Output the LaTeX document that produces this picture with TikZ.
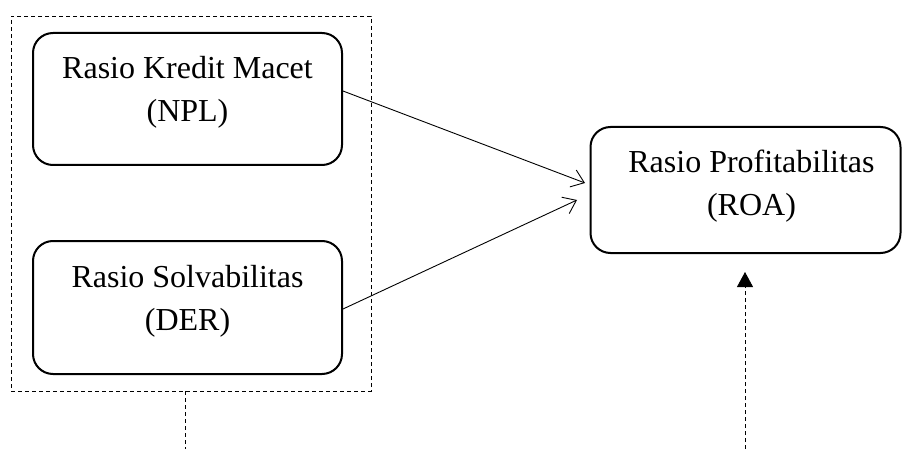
\documentclass[tikz,border=0pt]{standalone}
\usepackage{fontspec}
\setmainfont{Liberation Serif}
\usetikzlibrary{arrows.meta}
\begin{document}
\begin{tikzpicture}[x=1pt,y=-1pt,
  box/.style={draw,line width=2pt,rounded corners=20pt,align=center,
    font=\fontsize{32}{43}\selectfont,inner sep=0pt},
  dsh/.style={draw,line width=0.9pt,dash pattern=on 4pt off 3pt},
  opena/.style={-{Straight Barb[length=12pt,width=18pt,line width=0.9pt]},line width=0.9pt},
  filla/.style={-{Triangle[length=15pt,width=16pt]}}
]
\useasboundingbox (0,0) rectangle (902,449);
\node[box,minimum width=309pt,minimum height=132pt,text depth=20pt] (npl) at (187.5,99) {Rasio Kredit Macet\\(NPL)};
\node[box,minimum width=309pt,minimum height=133pt,text depth=20pt] (der) at (187.5,307.5) {Rasio Solvabilitas\\(DER)};
\node[box,minimum width=310pt,minimum height=126pt,text depth=15pt] (roa) at (745.5,190) {\hspace*{12pt}Rasio Profitabilitas\\\hspace*{12pt}(ROA)};
\node[dsh,minimum width=360pt,minimum height=375pt,inner sep=0pt] (grp) at (191,203.5) {};
\coordinate (t1) at (585,183);
\coordinate (t2) at (577,200);
\coordinate (g1) at (185,449);
\coordinate (b1) at (745,449);
\coordinate (b2) at (745,272);
\draw[opena] (npl.east |- 0,91) -- (t1);
\draw[opena] (der.east |- 0,309) -- (t2);
\draw[dsh] (grp.south -| g1) -- (g1);
\draw[dsh,filla] (b1) -- (b2);
\end{tikzpicture}
\end{document}
